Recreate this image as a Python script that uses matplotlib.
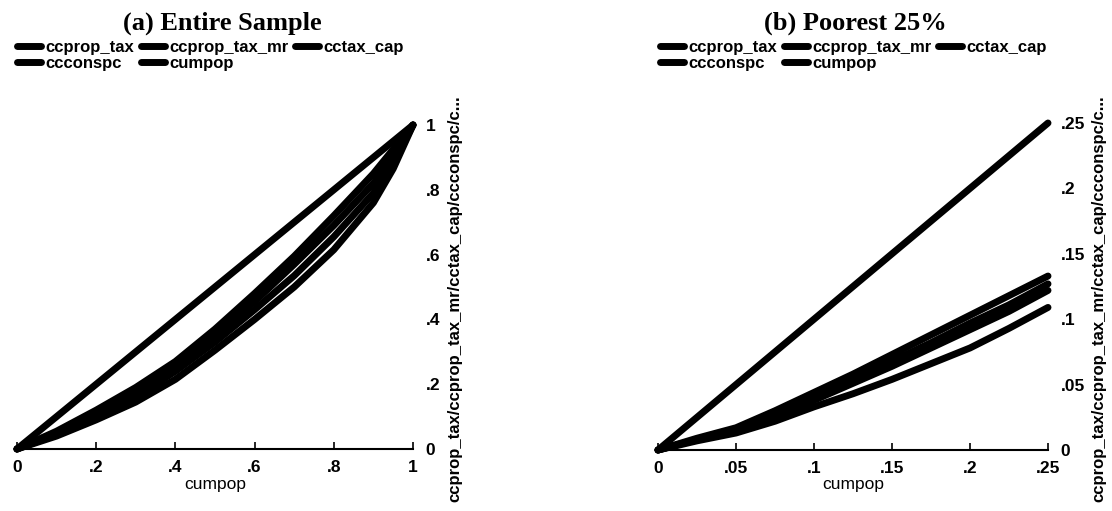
import matplotlib.pyplot as plt

plt.rcParams['font.family'] = ['Liberation Sans', 'DejaVu Sans']
plt.rcParams['font.weight'] = 'bold'

# (a) entire sample
cumpop_a = [0, .1, .2, .3, .4, .5, .6, .7, .8, .9, .95, 1]
ccprop_tax_a = [0, .055, .12, .19, .27, .37, .48, .595, .72, .85, .925, 1]
ccprop_tax_mr_a = [0, .05, .11, .17, .255, .35, .455, .57, .69, .82, .90, 1]
cctax_cap_a = [0, .045, .10, .16, .24, .33, .43, .535, .655, .79, .88, 1]
ccconspc_a = [0, .04, .09, .145, .215, .305, .40, .50, .615, .76, .865, 1]

# (b) poorest 25%
cumpop_b = [0, .025, .05, .075, .1, .125, .15, .175, .2, .225, .25]
ccprop_tax_b = [0, .009, .017, .030, .044, .058, .073, .088, .103, .118, .133]
ccprop_tax_mr_b = [0, .008, .016, .028, .041, .054, .068, .082, .097, .111, .127]
cctax_cap_b = [0, .008, .015, .026, .038, .051, .064, .078, .092, .106, .122]
ccconspc_b = [0, .007, .013, .022, .033, .043, .054, .066, .078, .093, .109]

ticks_a = [0, .2, .4, .6, .8, 1]
ticklabels_a = ['0', '.2', '.4', '.6', '.8', '1']
ticks_b = [0, .05, .1, .15, .2, .25]
ticklabels_b = ['0', '.05', '.1', '.15', '.2', '.25']

W, H = 1112, 511
fig = plt.figure(figsize=(W / 100, H / 100), dpi=100)

ytitle = 'ccprop_tax/ccprop_tax_mr/cctax_cap/ccconspc/c...'


def panel(rect, x, series, ticks, labels, title, title_x, leg_x, ytitle_x):
    ax = fig.add_axes(rect)
    names = ['ccprop_tax', 'ccprop_tax_mr', 'cctax_cap', 'ccconspc', 'cumpop']
    lines = {}
    for name, y in zip(names, series):
        ln, = ax.plot(x, y, color='black', lw=5, solid_capstyle='round',
                      solid_joinstyle='round', clip_on=False)
        lines[name] = ln
    top = ticks[-1]
    ax.set_xlim(0, top)
    ax.set_ylim(0, top)
    for s in ['top', 'left', 'right']:
        ax.spines[s].set_visible(False)
    ax.spines['bottom'].set_linewidth(1.5)
    ax.yaxis.tick_right()
    ax.set_xticks(ticks)
    ax.set_xticklabels(labels)
    ax.set_yticks(ticks)
    ax.set_yticklabels(labels)
    ax.tick_params(axis='x', direction='in', length=5, width=1.2, pad=8, labelsize=12.5)
    ax.tick_params(axis='y', direction='in', length=0, pad=9, labelsize=12.5)
    ax.set_xlabel('cumpop', fontsize=12.5, labelpad=1)
    order = ['ccprop_tax', 'ccconspc', 'ccprop_tax_mr', 'cumpop', 'cctax_cap']
    fig.legend([lines[n] for n in order], order, ncol=3, loc='upper left',
               bbox_to_anchor=(leg_x / W, 1 - 40 / H), frameon=False,
               fontsize=12, handlelength=1.45, handletextpad=0.25,
               columnspacing=0.4, labelspacing=0.05, borderpad=0, borderaxespad=0)
    fig.text(title_x / W, 1 - 23 / H, title, ha='center', va='center',
             family='Liberation Serif', fontweight='bold', fontsize=19)
    fig.text(ytitle_x / W, 1 - 95 / H, ytitle, rotation=90, ha='center', va='top',
             fontsize=12)
    return ax


panel([17 / W, 1 - 449 / H, 396 / W, 324 / H], cumpop_a,
      [ccprop_tax_a, ccprop_tax_mr_a, cctax_cap_a, ccconspc_a, cumpop_a],
      ticks_a, ticklabels_a, '(a) Entire Sample', 222, 17, 455)

panel([658 / W, 1 - 450 / H, 390 / W, 327 / H], cumpop_b,
      [ccprop_tax_b, ccprop_tax_mr_b, cctax_cap_b, ccconspc_b, cumpop_b],
      ticks_b, ticklabels_b, '(b) Poorest 25%', 855, 660, 1099)

fig.savefig('out.png', dpi=100)
